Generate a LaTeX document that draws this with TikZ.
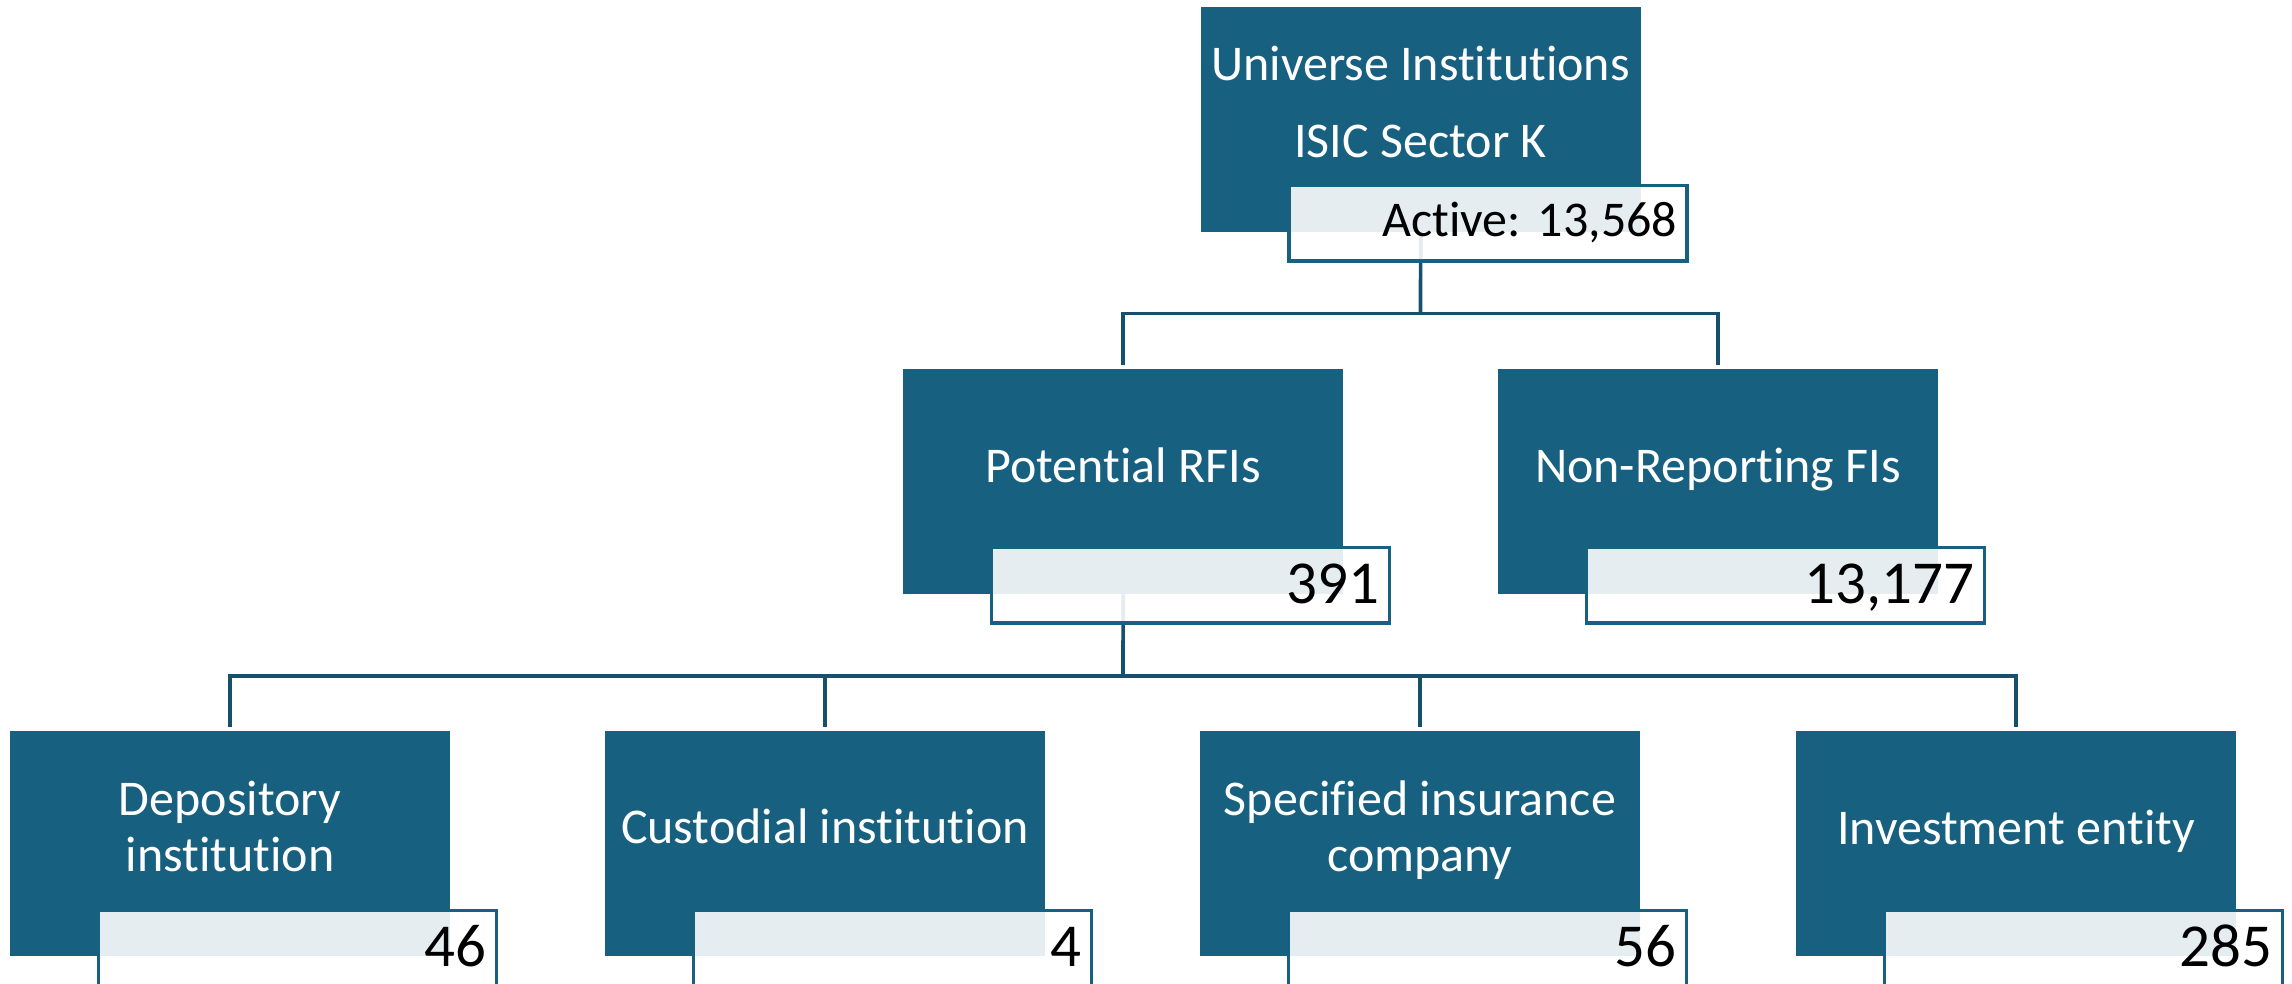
\documentclass[tikz,border=0pt]{standalone}
\usepackage{fontspec}
\setmainfont{Carlito}[Ligatures={NoCommon}]
\frenchspacing
\definecolor{boxblue}{RGB}{24,96,128}
\definecolor{linblue}{RGB}{23,80,108}
\begin{document}
\begin{tikzpicture}[x=1pt,y=-1pt,
  darkbox/.style={fill=boxblue, draw=none, minimum width=440pt, minimum height=225pt, inner sep=0pt, anchor=north west},
  numbox/.style={fill=white, fill opacity=0.89, text opacity=1, draw=boxblue, draw opacity=1, line width=3.5pt,
    minimum width=398pt, minimum height=75.5pt, inner xsep=10pt, inner ysep=0pt, text width=378pt, align=right,
    anchor=north west, font=\fontsize{61}{70}\selectfont, text height=46pt, text depth=10pt},
  numboxtop/.style={numbox, font=\fontsize{50}{60}\selectfont, text height=41pt, text depth=14pt},
  lbl/.style={text=white, font=\fontsize{50}{56}\selectfont, align=center, inner sep=0pt, anchor=base},
  conn/.style={draw=linblue, line width=3.7pt}
]
\fill[white] (0,0) rectangle (2292,983);
\useasboundingbox (0,0) rectangle (2292,983);

% dark boxes
\node[darkbox] (uni) at (1200.5,7) {};
\node[darkbox] (prfi) at (903,369) {};
\node[darkbox] (nrfi) at (1498,369) {};
\node[darkbox] (dep) at (10,731) {};
\node[darkbox] (cus) at (605,731) {};
\node[darkbox] (spe) at (1200,731) {};
\node[darkbox] (inv) at (1796,731) {};

% labels (base anchor = baseline of the last line)
\node[lbl] (uni-t) at (1420.5,157) {Universe Institutions\\[21pt]ISIC Sector K};
\node[lbl] (prfi-t) at (1123,482) {Potential RFIs};
\node[lbl] (nrfi-t) at (1718,482) {Non-Reporting FIs};
\node[lbl] (dep-t) at (230,871) {Depository\\institution};
\node[lbl] (cus-t) at (825,843) {Custodial institution};
\node[lbl] (spe-t) at (1420,871) {Specified insurance\\company};
\node[lbl] (inv-t) at (2016,844) {Investment entity};

% connectors
\coordinate (b1) at (1420.5,313.5);
\draw[conn] (uni.south) -- (b1);
\draw[conn] (b1) -| ([yshift=4pt]prfi.north);
\draw[conn] (b1) -| ([yshift=4pt]nrfi.north);
\coordinate (b2) at (1123,676);
\draw[conn] (prfi.south) -- (b2);
\draw[conn] (b2) -| ([yshift=4pt]dep.north);
\draw[conn] (b2) -| ([yshift=4pt]cus.north);
\draw[conn] (b2) -| ([yshift=4pt]spe.north);
\draw[conn] (b2) -| ([yshift=4pt]inv.north);

% number boxes
\node[numboxtop] (uni-n) at (1287.25,183.75) {Active: 13,568};
\node[numbox] (prfi-n) at (989.75,545.75) {391};
\node[numbox] (nrfi-n) at (1584.75,545.75) {13,177};
\node[numbox] (dep-n) at (96.75,908.75) {46};
\node[numbox] (cus-n) at (691.75,908.75) {4};
\node[numbox] (spe-n) at (1286.75,908.75) {56};
\node[numbox] (inv-n) at (1882.75,908.75) {285};
\end{tikzpicture}
\end{document}
